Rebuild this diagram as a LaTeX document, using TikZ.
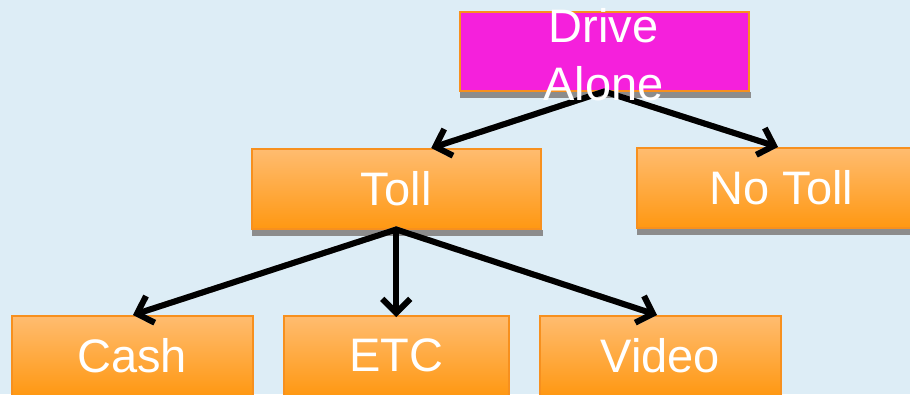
\documentclass[tikz,border=0pt]{standalone}
\usepackage{fontspec}
\setmainfont{Liberation Sans}
\usetikzlibrary{arrows.meta,calc}

\definecolor{bgblue}{HTML}{DDEDF6}
\definecolor{boxtop}{HTML}{FFBC70}
\definecolor{boxbot}{HTML}{FF9812}
\definecolor{boxline}{HTML}{F7901E}
\definecolor{magentabox}{HTML}{F520DC}
\definecolor{shadowgray}{HTML}{8C8C8C}

\tikzset{
  box/.style={draw=boxline, line width=1.5pt, top color=boxtop, bottom color=boxbot,
    minimum height=80pt, inner sep=0pt, text=white,
    font=\fontsize{47}{58}\selectfont, anchor=north west},
  rootbox/.style={draw=boxline, line width=1.5pt, fill=magentabox,
    minimum width=289pt, minimum height=79pt, inner sep=0pt, anchor=north west},
  rootlabel/.style={text=white, align=center, inner sep=0pt,
    font=\fontsize{47}{58}\selectfont},
  shadowband/.style={fill=shadowgray, draw=none},
  arr/.style={line width=6pt, black, line cap=round,
    -{Straight Barb[length=14pt,width=28pt]}},
  arrshadow/.style={line width=6pt, shadowgray!80, line cap=round,
    -{Straight Barb[length=14pt,width=28pt]}, shift={(2pt,-3pt)}},
}

\begin{document}
\begin{tikzpicture}[x=1pt, y=-1pt]
  \useasboundingbox (0,0) rectangle (910,394);
  \clip (0,0) rectangle (910,394);
  \fill[bgblue] (0,0) rectangle (910,394);

  % boxes of the decision tree
  \node[rootbox] (drive) at (459,11) {};
  \node[box, minimum width=289pt] (toll)   at (251,148) {Toll};
  \node[box, minimum width=289pt] (notoll) at (636,147) {No Toll};
  \node[box, minimum width=241pt] (cash)   at (11,315)  {Cash};
  \node[box, minimum width=225pt] (etc)    at (283,315) {ETC};
  \node[box, minimum width=241pt] (video)  at (539,315) {Video};

  % soft shadows under the upper boxes
  \foreach \b in {drive,toll,notoll}
    \fill[shadowband] ([xshift=1pt]\b.south west) rectangle ([xshift=1pt,yshift=-6pt]\b.south east);

  % connector shadows
  \draw[arrshadow] (drive.south) -- ([xshift=35pt]toll.north);
  \draw[arrshadow] (drive.south) -- ([xshift=142pt]notoll.north west);
  \draw[arrshadow] (toll.south) -- ([xshift=122pt]cash.north west);
  \draw[arrshadow] (toll.south) -- ([xshift=118pt]video.north west);

  % connectors
  \draw[arr] (drive.south) -- ([xshift=35pt]toll.north);
  \draw[arr] (drive.south) -- ([xshift=142pt]notoll.north west);
  \draw[arr] (toll.south) -- ([xshift=122pt]cash.north west);
  \draw[arr] (toll.south) -- ([yshift=-2pt]etc.north);
  \draw[arr] (toll.south) -- ([xshift=118pt]video.north west);

  % root label, set over the box edge and the connectors
  \node[rootlabel] (drivelbl) at (603.5,55) {Drive\\Alone};
\end{tikzpicture}
\end{document}
